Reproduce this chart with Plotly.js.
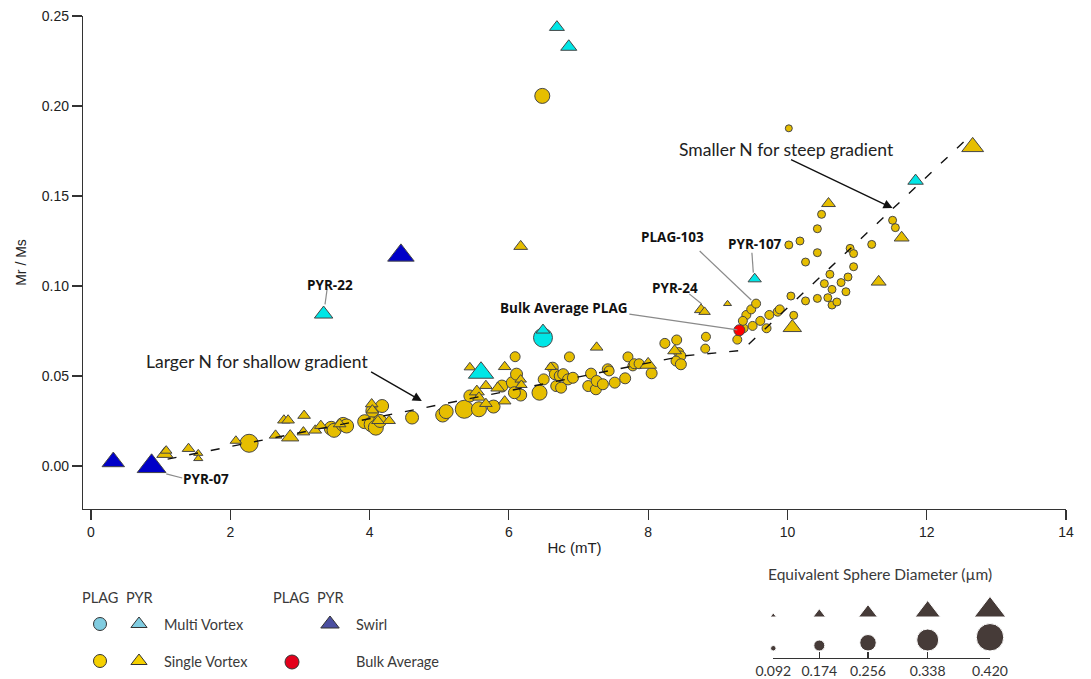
<!DOCTYPE html>
<html><head><meta charset="utf-8">
<script src="https://cdn.plot.ly/plotly-3.0.1.min.js"></script>
<style>html,body{margin:0;padding:0;background:#fff}#chart{width:1091px;height:679px}</style>
</head><body><div id="chart"></div>
<script>
// ---- PLAG, single vortex (circles) ----
const plagSvHc = [2.27,3.45,3.49,3.62,3.67,3.93,4.04,4.18,4.03,4.09,4.15,4.61,5.05,5.10,5.36,5.57,5.78,5.44,6.09,5.90,6.05,6.11,6.17,6.08,6.44,6.50,6.63,6.66,6.73,6.78,6.68,6.75,6.85,6.92,6.48,6.87,7.18,7.14,7.25,7.26,7.35,7.42,7.44,7.52,7.67,7.71,7.78,7.80,7.87,8.05,8.24,8.41,8.44,8.47,8.40,8.47,8.83,8.82,9.28,9.37,9.41,9.48,9.55,9.50,9.61,9.36,9.74,9.86,9.89,9.70,10.05,10.09,10.02,10.49,10.43,11.51,11.55,10.02,10.18,10.43,10.26,11.21,10.90,10.95,10.95,10.61,10.53,10.64,10.77,10.87,10.84,10.43,10.58,10.64,10.71,10.26];
const plagSvMrMs = [0.0126,0.0209,0.0198,0.0231,0.0222,0.0246,0.0306,0.0333,0.0231,0.0213,0.0250,0.0269,0.0283,0.0302,0.0315,0.0315,0.0330,0.0389,0.0607,0.0444,0.0463,0.0510,0.0394,0.0407,0.0407,0.0481,0.0546,0.0510,0.0500,0.0510,0.0444,0.0435,0.0481,0.0490,0.2056,0.0606,0.0513,0.0444,0.0426,0.0472,0.0454,0.0537,0.0528,0.0463,0.0487,0.0606,0.0556,0.0568,0.0568,0.0515,0.0681,0.0700,0.0630,0.0611,0.0583,0.0565,0.0718,0.0652,0.0702,0.0765,0.0839,0.0870,0.0902,0.0778,0.0806,0.0806,0.0839,0.0857,0.0870,0.0765,0.0944,0.0837,0.1876,0.1398,0.1318,0.1365,0.1324,0.1228,0.1250,0.1185,0.1133,0.1231,0.1209,0.1180,0.1107,0.1065,0.1013,0.0981,0.1019,0.1050,0.0968,0.0931,0.0935,0.0894,0.0911,0.0917];
const plagSvDiam = [0.279,0.219,0.219,0.219,0.219,0.219,0.204,0.204,0.234,0.234,0.204,0.204,0.219,0.219,0.279,0.234,0.204,0.189,0.159,0.189,0.189,0.189,0.189,0.189,0.234,0.174,0.174,0.174,0.174,0.174,0.174,0.174,0.174,0.174,0.234,0.159,0.174,0.174,0.174,0.174,0.174,0.174,0.159,0.174,0.174,0.159,0.159,0.159,0.159,0.174,0.159,0.159,0.159,0.159,0.159,0.174,0.144,0.144,0.144,0.144,0.144,0.144,0.144,0.144,0.144,0.144,0.144,0.144,0.144,0.144,0.129,0.129,0.114,0.129,0.129,0.129,0.129,0.129,0.129,0.129,0.129,0.129,0.129,0.129,0.129,0.129,0.129,0.129,0.129,0.129,0.129,0.129,0.129,0.129,0.129,0.129];

// ---- PYR, single vortex (triangles) ----
const pyrSvHc = [1.06,1.08,1.40,1.54,1.54,2.08,2.65,2.77,2.83,2.86,3.06,3.05,3.22,3.30,3.57,4.03,4.04,4.12,4.28,5.44,5.94,5.67,5.54,5.57,5.67,5.84,5.94,6.17,6.18,6.60,7.26,8.00,8.38,6.17,8.76,8.81,9.14,10.07,11.31,10.59,11.64,12.66];
const pyrSvMrMs = [0.0067,0.0085,0.0096,0.0070,0.0041,0.0140,0.0170,0.0254,0.0254,0.0160,0.0280,0.0188,0.0198,0.0224,0.0233,0.0344,0.0310,0.0251,0.0251,0.0548,0.0551,0.0446,0.0413,0.0381,0.0346,0.0433,0.0360,0.0480,0.0450,0.0550,0.0659,0.0563,0.0640,0.1220,0.0868,0.0856,0.0901,0.0769,0.1023,0.1458,0.1268,0.1773];
const pyrSvDiam = [0.219,0.159,0.174,0.129,0.129,0.159,0.174,0.174,0.174,0.234,0.174,0.174,0.174,0.174,0.174,0.174,0.174,0.174,0.174,0.159,0.174,0.174,0.204,0.174,0.174,0.189,0.174,0.159,0.159,0.159,0.174,0.226,0.189,0.189,0.182,0.159,0.114,0.249,0.204,0.189,0.204,0.293];

// ---- Multi vortex ----
const plagMvHc = [6.49];
const plagMvMrMs = [0.0713];
const plagMvDiam = [0.293];
const pyrMvHc = [3.34,5.60,6.49,6.69,6.86,9.53,11.84];
const pyrMvMrMs = [0.0844,0.0518,0.0755,0.2438,0.2329,0.1039,0.1584];
const pyrMvDiam = [0.249,0.338,0.189,0.204,0.219,0.182,0.211];

// ---- Swirl (PYR) ----
const pyrSwHc = [0.32,0.87,4.45];
const pyrSwMrMs = [0.0023,-0.0002,0.117];
const pyrSwDiam = [0.301,0.383,0.353];

// ---- Bulk average PLAG ----
const bulkHc = [9.31];
const bulkMrMs = [0.0754];
const bulkDiam = [0.174];

// ---- dashed trend ----
const fitHc = [1.1, 8.5, 9.35, 12.55];
const fitMrMs = [0.0038, 0.0611, 0.0642, 0.1807];

// ---- size legend ----
const legendDiam = [0.092, 0.174, 0.256, 0.338, 0.420];
const xTicks = [0, 2, 4, 6, 8, 10, 12, 14];

// ---- labels ----
const sampleLabels = ['PYR-22','PLAG-103','PYR-107','PYR-24','Bulk Average PLAG','PYR-07'];

function msize(d){ return 5.5 + 67*(d-0.092); }

const GOLD = '#E6BE00', CYAN = '#00E6E6', BLUE = '#0000C8', RED = '#FF0000';
const EDGE = 'rgb(70,70,70)';

function pts(x, y, d, sym, col, name){
  return {type:'scatter', mode:'markers', x:x, y:y, name:name, xaxis:'x', yaxis:'y',
    cliponaxis:false, hoverinfo:'x+y',
    marker:{symbol:sym, color:col, opacity:1, size:d.map(msize), line:{color:EDGE, width:1}}};
}

const traces = [
  pts(plagSvHc, plagSvMrMs, plagSvDiam, 'circle', GOLD, 'PLAG Single Vortex'),
  pts(pyrSvHc, pyrSvMrMs, pyrSvDiam, 'triangle-up', GOLD, 'PYR Single Vortex'),
  pts(pyrSwHc, pyrSwMrMs, pyrSwDiam, 'triangle-up', BLUE, 'PYR Swirl'),
  pts(plagMvHc, plagMvMrMs, plagMvDiam, 'circle', CYAN, 'PLAG Multi Vortex'),
  pts(pyrMvHc, pyrMvMrMs, pyrMvDiam, 'triangle-up', CYAN, 'PYR Multi Vortex'),
  pts(bulkHc, bulkMrMs, bulkDiam, 'circle', RED, 'Bulk Average'),
  {type:'scatter', mode:'lines', x:fitHc, y:fitMrMs, xaxis:'x', yaxis:'y', hoverinfo:'skip',
   line:{color:'#111', width:1.4, dash:'9px,13px'}}
];

// legend symbols (key) on pixel-style helper axes x2/y2
const keyX = [100, 139, 100, 139, 330, 292];
const keyY = [624, 624, 661, 661, 624, 662];
const keySym = ['circle','triangle-up','circle','triangle-up','triangle-up','circle'];
const keyCol = ['#80CCE0','#80CCE0','#F5D000','#F5D000','#4B4FA0','#E3001B'];
const keySize = [13, 14, 13, 14, 16, 14];
traces.push({type:'scatter', mode:'markers', x:keyX, y:keyY, xaxis:'x2', yaxis:'y2', hoverinfo:'skip', cliponaxis:false,
  marker:{symbol:keySym, color:keyCol, opacity:1, size:keySize, line:{color:'#333', width:1}}});

// size legend markers on x3/y3
const sizePos = [773.3, 819.3, 868, 927.7, 990];
traces.push({type:'scatter', mode:'markers', x:sizePos, y:legendDiam.map(d=>617 - msize(d)/4), xaxis:'x3', yaxis:'y3',
  hoverinfo:'skip', cliponaxis:false, marker:{symbol:'triangle-up', color:'#463B38', opacity:1, size:legendDiam.map(msize)}});
traces.push({type:'scatter', mode:'markers', x:sizePos, y:legendDiam.map(d=>651 - msize(d)/2), xaxis:'x3', yaxis:'y3',
  hoverinfo:'skip', cliponaxis:false, marker:{symbol:'circle', color:'#463B38', opacity:1, size:legendDiam.map(msize)}});

const TXT = '#3a3a3a';
const tickFont = {family:'"Liberation Sans", Arial, sans-serif', size:14, color:'#222'};
const lblFont = {family:'"Open Sans", sans-serif', size:13.5, color:'#111', weight:'bold'};
const noteFont = {family:'Lato, sans-serif', size:17.5, color:'#222'};
const keyFont = {family:'Lato, sans-serif', size:14.5, color:TXT};

function lbl(text, x, y){ return {text:'<b>'+text+'</b>', x:x, y:y, xref:'x', yref:'y', showarrow:false, font:lblFont}; }
function keyTxt(text, x, y, anchor, size){ return {text:text, x:x, y:y, xref:'x2', yref:'y2', showarrow:false, xanchor:anchor||'left',
  font:Object.assign({}, keyFont, size?{size:size}:{})}; }

const annotations = [
  lbl(sampleLabels[0], 3.43, 0.1006),
  lbl(sampleLabels[1], 8.35, 0.1272),
  lbl(sampleLabels[2], 9.54, 0.1233),
  lbl(sampleLabels[3], 8.39, 0.0989),
  lbl(sampleLabels[4], 6.79, 0.0878),
  lbl(sampleLabels[5], 1.65, -0.0072),
  {text:'Larger N for shallow gradient', x:2.38, y:0.0583, xref:'x', yref:'y', showarrow:false, font:noteFont},
  {text:'Smaller N for steep gradient', x:9.99, y:0.1761, xref:'x', yref:'y', showarrow:false, font:noteFont},
  {text:'', x:4.75, y:0.0361, ax:4.0, ay:0.0528, xref:'x', yref:'y', axref:'x', ayref:'y', showarrow:true,
   arrowhead:2, arrowsize:1.3, arrowwidth:1.4, arrowcolor:'#111'},
  {text:'', x:11.51, y:0.1433, ax:10.03, ay:0.1706, xref:'x', yref:'y', axref:'x', ayref:'y', showarrow:true,
   arrowhead:2, arrowsize:1.3, arrowwidth:1.4, arrowcolor:'#111'},
  keyTxt('PLAG', 100, 598, 'center'), keyTxt('PYR', 139, 598, 'center'),
  keyTxt('Multi Vortex', 162, 625), keyTxt('Single Vortex', 162, 662),
  keyTxt('PLAG', 291, 598, 'center'), keyTxt('PYR', 330, 598, 'center'),
  keyTxt('Swirl', 354, 625), keyTxt('Bulk Average', 354, 662),
  keyTxt('Equivalent Sphere Diameter (µm)', 880, 574, 'center', 15.5)
];

const leader = {type:'line', xref:'x', yref:'y', line:{color:'#8a8a8a', width:1.2}};
const shapes = [
  Object.assign({x0:3.39, y0:0.0982, x1:3.36, y1:0.0898}, leader),
  Object.assign({x0:8.74, y0:0.1194, x1:9.48, y1:0.0922}, leader),
  Object.assign({x0:9.49, y0:0.1185, x1:9.51, y1:0.1074}, leader),
  Object.assign({x0:8.59, y0:0.0956, x1:8.77, y1:0.0900}, leader),
  Object.assign({x0:7.73, y0:0.0844, x1:9.28, y1:0.0756}, leader),
  Object.assign({x0:1.08, y0:-0.0044, x1:1.31, y1:-0.0067}, leader)
];

const axisCommon = {showgrid:false, zeroline:false, showline:true, linecolor:'#333', linewidth:1.2,
  ticks:'outside', ticklen:10, tickwidth:1.2, tickcolor:'#333', tickfont:tickFont};

const layout = {
  width:1091, height:679, margin:{l:83, r:25, t:16, b:5},
  paper_bgcolor:'#fff', plot_bgcolor:'#fff', showlegend:false,
  xaxis: Object.assign({}, axisCommon, {domain:[0,1], anchor:'y', range:[-0.115,14], tickvals:xTicks,
    title:{text:'Hc (mT)', standoff:3, font:{family:'"Liberation Sans", Arial, sans-serif', size:15, color:'#222'}}}),
  yaxis: Object.assign({}, axisCommon, {domain:[0.2508,1], anchor:'x', range:[-0.0239,0.25], dtick:0.05, tick0:0, tickformat:'.2f',
    title:{text:'Mr / Ms', standoff:11, font:{family:'"Liberation Sans", Arial, sans-serif', size:14, color:'#222'}}}),
  xaxis2:{domain:[0,1], range:[83,1066], anchor:'y2', visible:false, fixedrange:true},
  yaxis2:{domain:[0,0.24], range:[674, 674-0.24*658], anchor:'x2', visible:false, fixedrange:true},
  xaxis3:{domain:[(773.3-83)/983,(990-83)/983], range:[773.3,990], anchor:'y3', showline:true, linecolor:'#333', linewidth:1.2,
    ticks:'inside', ticklen:6, tickcolor:'#333', tickwidth:1.2, tickvals:sizePos, ticktext:legendDiam.map(d=>d.toFixed(3)),
    showgrid:false, zeroline:false, tickfont:{family:'Lato, sans-serif', size:14, color:'#333'}, fixedrange:true},
  yaxis3:{domain:[(674-657.7)/658,(674-585)/658], range:[657.7,585], anchor:'x3', visible:false, fixedrange:true},
  annotations:annotations, shapes:shapes
};

Plotly.newPlot('chart', traces, layout, {displayModeBar:false, staticPlot:true});
</script></body></html>
